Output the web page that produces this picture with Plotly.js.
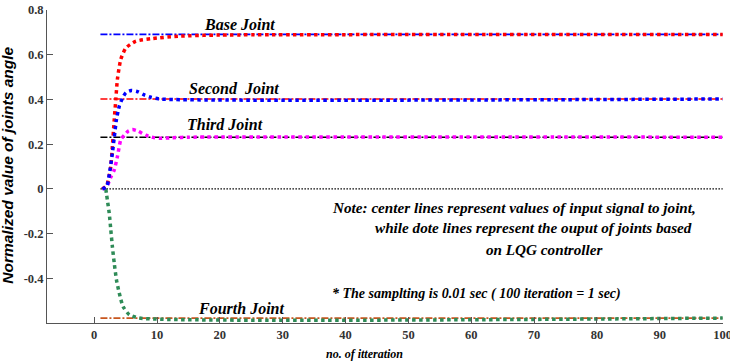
<!DOCTYPE html>
<html><head><meta charset="utf-8">
<script src="https://cdn.plot.ly/plotly-3.0.1.min.js"></script>
<style>html,body{margin:0;padding:0;background:#fff}#chart{width:730px;height:362px}</style>
</head><body><div id="chart"></div>
<script>
// Reference (input) levels
const refX = [1, 100];
const baseRef = [0.691, 0.691];
const secondRef = [0.402, 0.402];
const thirdRef = [0.231, 0.231];
const fourthRef = [-0.578, -0.578];
const zeroRef = [0, 0];

// LQG outputs
const baseX = [1.3, 2, 2.4, 2.65, 2.9, 3.2, 3.45, 3.7, 4.25, 5.05, 6.6, 9.2, 13.5, 20, 100];
const baseY = [0, 0.016, 0.06, 0.1, 0.19, 0.31, 0.40, 0.49, 0.58, 0.63, 0.66, 0.672, 0.683, 0.688, 0.69];
const secondX = [1.3, 2, 2.5, 2.9, 3.2, 3.55, 4, 4.5, 5.05, 5.9, 6.9, 8, 9, 10.4, 100];
const secondY = [0, 0.01, 0.08, 0.16, 0.23, 0.31, 0.37, 0.405, 0.43, 0.44, 0.435, 0.42, 0.41, 0.402, 0.402];
const thirdX = [1.3, 2, 2.6, 3.2, 3.7, 4.25, 4.8, 5.4, 6.1, 7, 8.2, 9.5, 10.4, 12, 15, 100];
const thirdY = [0, 0.01, 0.05, 0.085, 0.144, 0.22, 0.24, 0.258, 0.265, 0.258, 0.24, 0.229, 0.226, 0.228, 0.231, 0.231];
const fourthX = [1.85, 2.1, 2.4, 2.65, 2.9, 3.2, 3.55, 4, 4.6, 5.6, 7.2, 100];
const fourthY = [0, -0.049, -0.109, -0.183, -0.258, -0.332, -0.407, -0.466, -0.526, -0.563, -0.578, -0.578];

const xTicks = [0, 10, 20, 30, 40, 50, 60, 70, 80, 90, 100];
const yTicks = [0.8, 0.6, 0.4, 0.2, 0, -0.2, -0.4];
const yTickText = ['0.8', '0.6', '0.4', '0.2', '0', '-0.2', '-0.4'];

const SERIF = 'Liberation Serif, Times New Roman, serif';
const SANS = 'Liberation Sans';

const refDash = '7px,2px,2px,2px';
function refLine(y, color) {
  return {x: refX, y: y, mode: 'lines', line: {color: color, width: 1.6, dash: refDash}, hoverinfo: 'skip'};
}
function outLine(x, y, color) {
  return {x: x, y: y, mode: 'lines', line: {color: color, width: 3.5, dash: 'dot', shape: 'spline', smoothing: 0.6}, hoverinfo: 'skip'};
}

const traces = [
  {x: refX, y: zeroRef, mode: 'lines', line: {color: '#000', width: 1.2, dash: '1.5px,1.5px'}},
  refLine(baseRef, '#0000ff'),
  refLine(secondRef, '#ff0000'),
  refLine(thirdRef, '#000000'),
  refLine(fourthRef, '#c8561e'),
  outLine(fourthX, fourthY, '#2e8b57'),
  outLine(thirdX, thirdY, '#ff00ff'),
  outLine(baseX, baseY, '#ff0000'),
  outLine(secondX, secondY, '#0000ff')
];

const lblFont = {family: SERIF, size: 16, color: '#000', weight: 'bold', style: 'italic'};
const noteFont = {family: SERIF, size: 15.2, color: '#000', weight: 'bold', style: 'italic'};
const noteFont2 = {family: SERIF, size: 14, color: '#000', weight: 'bold', style: 'italic'};
function ann(text, x, y, font) {
  return {text: text, x: x, y: y, xref: 'x', yref: 'y', showarrow: false, xanchor: 'center', yanchor: 'middle', font: font};
}
const tickFont = {family: SERIF, size: 12.5, color: '#333', weight: 'bold'};

const layout = {
  width: 730, height: 362,
  margin: {l: 47, r: 7, t: 10, b: 39},
  paper_bgcolor: '#fff', plot_bgcolor: '#fff',
  showlegend: false,
  xaxis: {
    range: [-7.5, 100.05], tickvals: xTicks, ticktext: xTicks.map(String),
    ticks: 'inside', ticklen: 6, tickcolor: '#555', showgrid: false, zeroline: false,
    showline: true, linecolor: '#555', linewidth: 1, tickfont: tickFont, ticklabeloverflow: 'allow'
  },
  yaxis: {
    range: [-0.6, 0.8], tickvals: yTicks, ticktext: yTickText,
    ticks: 'inside', ticklen: 6, tickcolor: '#555', showgrid: false, zeroline: false,
    showline: true, linecolor: '#555', linewidth: 1, tickfont: tickFont
  },
  annotations: [
    ann('Base Joint', 23.2, 0.733, lblFont),
    ann('Second  Joint', 22.3, 0.451, lblFont),
    ann('Third Joint', 20.8, 0.286, lblFont),
    ann('Fourth Joint', 23.3, -0.533, lblFont),
    ann('Note: center lines represent values of input signal to joint,', 66.8, -0.085, noteFont),
    ann('while dote lines represent the ouput of joints based', 69.9, -0.175, noteFont),
    ann('on LQG controller', 71.7, -0.273, noteFont),
    ann('* The samplting is 0.01 sec ( 100 iteration = 1 sec)', 60.9, -0.470, noteFont2),
    {text: 'no. of itteration', x: 43.0, y: -0.099, xref: 'x', yref: 'paper', showarrow: false,
     xanchor: 'center', yanchor: 'middle',
     font: {family: SERIF, size: 12, color: '#000', weight: 'bold', style: 'italic'}},
    {text: 'Normalized value of joints angle', x: -0.058, y: 0.505, xref: 'paper', yref: 'paper', showarrow: false,
     xanchor: 'center', yanchor: 'middle', textangle: -90,
     font: {family: SANS, size: 15.5, color: '#000', weight: 'bold', style: 'italic'}}
  ]
};

Plotly.newPlot('chart', traces, layout, {displayModeBar: false, staticPlot: true});
</script>
</body></html>
